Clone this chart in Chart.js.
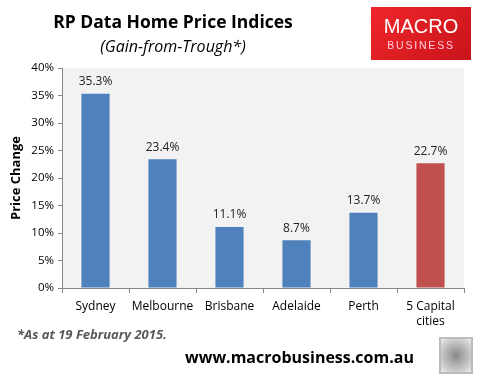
<!DOCTYPE html>
<html><head><meta charset="utf-8">
<script src="https://cdn.jsdelivr.net/npm/chart.js@4/dist/chart.umd.min.js"></script>
<style>
html,body{margin:0;padding:0;background:#fff;}
#wrap{position:relative;width:483px;height:378px;overflow:hidden;font-family:"Open Sans","DejaVu Sans",sans-serif;}
canvas{position:absolute;left:0;top:0;}
.t{position:absolute;white-space:nowrap;}
#title{left:0;width:346px;top:9px;text-align:center;font-weight:bold;font-size:17.5px;color:#000;}
#sub{left:0;width:346px;top:35px;text-align:center;font-style:italic;font-size:16px;color:#000;}
#logo{left:371px;top:7px;width:100px;height:53px;background:linear-gradient(135deg,#f0262b,#c8141a);}
#logo .m{position:absolute;left:0;width:100px;top:8px;text-align:center;color:#fff;font-family:"Liberation Sans",sans-serif;font-size:20px;}
#logo .b{position:absolute;left:0;width:100px;top:32px;text-align:center;color:#fcd;font-family:"Liberation Sans",sans-serif;font-size:10.5px;letter-spacing:1.8px;}
#foot{left:17px;top:325px;font-weight:bold;font-style:italic;font-size:13px;color:#595959;}
#url{left:185px;top:346px;font-weight:bold;font-size:16px;color:#000;}
#wolf{left:439px;top:337px;width:30px;height:33px;border:2px solid #bbb;background:radial-gradient(circle at 50% 50%,#888,#ccc 70%,#eee);}
</style></head>
<body><div id="wrap">
<canvas id="c" width="483" height="378"></canvas>
<div class="t" id="title">RP Data Home Price Indices</div>
<div class="t" id="sub">(Gain-from-Trough*)</div>
<div class="t" id="logo"><div class="m">MACRO</div><div class="b">BUSINESS</div></div>
<div class="t" id="foot">*As at 19 February 2015.</div>
<div class="t" id="url">www.macrobusiness.com.au</div>
<div class="t" id="wolf"></div>
</div>
<script>
const categories = ["Sydney","Melbourne","Brisbane","Adelaide","Perth",["5 Capital","cities"]];
const gains = [35.3, 23.4, 11.1, 8.7, 13.7, 22.7];
const barColors = ["#4f81bd","#4f81bd","#4f81bd","#4f81bd","#4f81bd","#c0504d"];
const yTicks = [0,5,10,15,20,25,30,35,40];

const bgPlugin = {
  id:'bg',
  beforeDraw(chart){
    const {ctx, chartArea:a} = chart;
    ctx.save(); ctx.fillStyle='#f2f2f2';
    ctx.fillRect(a.left,a.top,a.right-a.left,a.bottom-a.top);
    ctx.restore();
  }
};
const labelPlugin = {
  id:'lbl',
  afterDatasetsDraw(chart){
    const {ctx} = chart;
    const meta = chart.getDatasetMeta(0);
    ctx.save();
    ctx.font = '12px "Open Sans", sans-serif';
    ctx.fillStyle = '#222';
    ctx.textAlign='center'; ctx.textBaseline='bottom';
    meta.data.forEach((el,i)=>{
      ctx.fillText(gains[i].toFixed(1)+'%', el.x, el.y-6);
    });
    ctx.restore();
  }
};

new Chart(document.getElementById('c'), {
  type:'bar',
  data:{labels:categories, datasets:[{data:gains, backgroundColor:barColors, barPercentage:0.42, categoryPercentage:1}]},
  options:{
    responsive:false, animation:false,
    layout:{padding:{left:0,right:19,top:68,bottom:44}},
    plugins:{legend:{display:false}, tooltip:{enabled:false}},
    scales:{
      x:{
        grid:{drawOnChartArea:false, offset:true, tickLength:5, color:'#868686'},
        border:{display:true,color:'#868686'},
        ticks:{font:{family:'"Open Sans", sans-serif',size:12,lineHeight:1.25}, color:'#000', maxRotation:0, padding:6},
        afterFit(s){ s.height = 46; }
      },
      y:{
        min:0,max:40,
        afterBuildTicks(s){ s.ticks = yTicks.map(v=>({value:v})); },
        grid:{drawOnChartArea:false, tickLength:4, color:'#868686'},
        border:{display:true,color:'#868686'},
        ticks:{font:{family:'"Open Sans", sans-serif',size:11.5}, color:'#000', padding:4, callback:v=>v+'%'},
        title:{display:true,text:'Price Change',font:{family:'"Open Sans", sans-serif',size:13,weight:'bold'},color:'#000',padding:{top:8,bottom:2}},
        afterFit(s){ s.width = 62; }
      }
    }
  },
  plugins:[bgPlugin,labelPlugin]
});
</script>
</body></html>
